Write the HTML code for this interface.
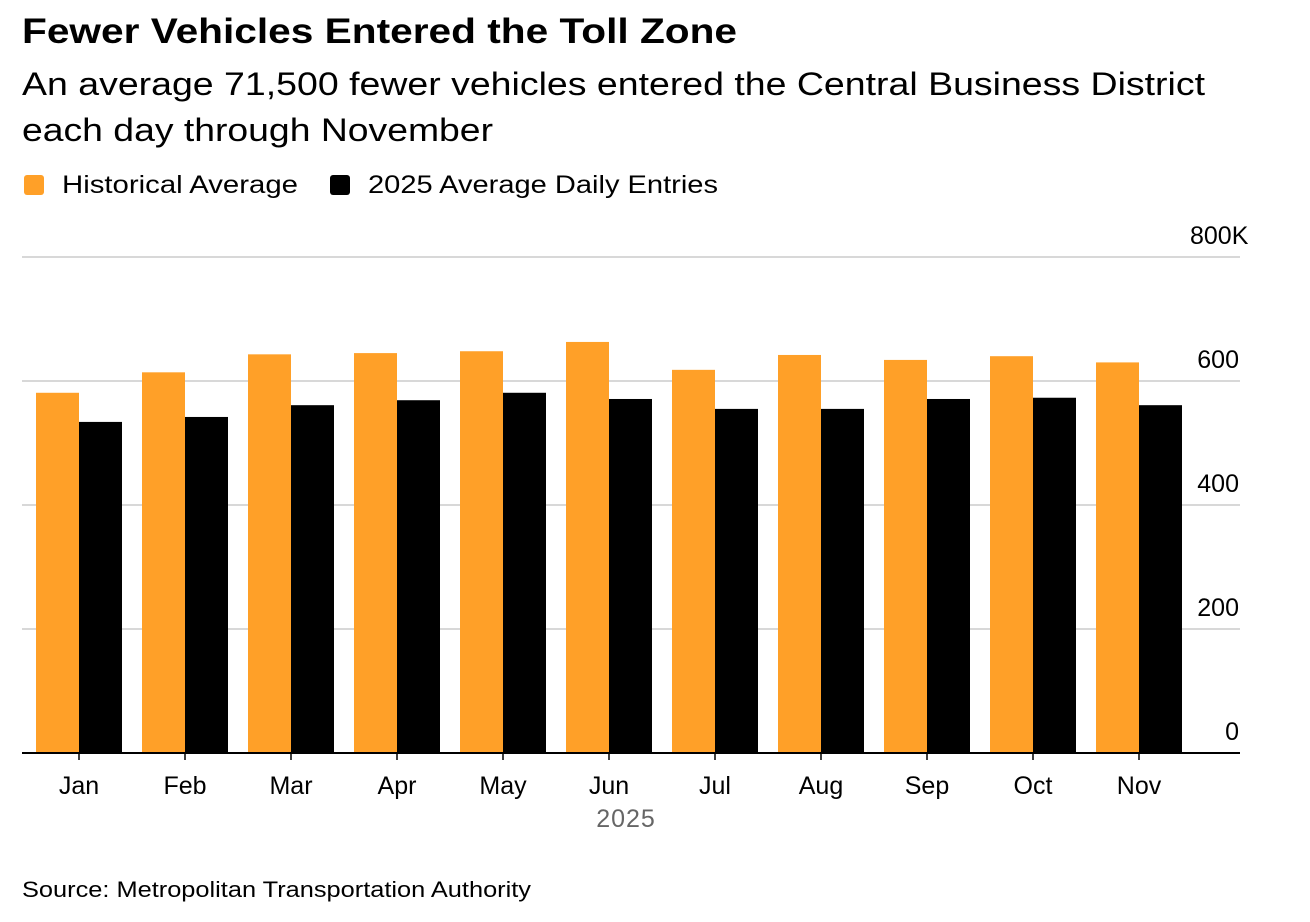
<!DOCTYPE html>
<html><head><meta charset="utf-8"><style>
body{margin:0;width:1310px;height:922px;background:#fff;font-family:"Liberation Sans",sans-serif;overflow:hidden}
svg{position:absolute;left:0;top:0}
</style></head><body>
<svg width="1310" height="922">
<text x="22" y="43" font-size="35" font-weight="bold" fill="#000" textLength="715" lengthAdjust="spacingAndGlyphs">Fewer Vehicles Entered the Toll Zone</text>
<text x="22" y="95" font-size="32" fill="#000" textLength="1183" lengthAdjust="spacingAndGlyphs">An average 71,500 fewer vehicles entered the Central Business District</text>
<text x="22" y="141" font-size="32" fill="#000" textLength="471" lengthAdjust="spacingAndGlyphs">each day through November</text>
<g>
<rect x="24" y="175" width="20" height="20" rx="3" fill="#ffa028"/>
<text x="62" y="193" font-size="25" textLength="236" lengthAdjust="spacingAndGlyphs">Historical Average</text>
<rect x="330" y="175" width="20" height="20" rx="3" fill="#000"/>
<text x="368" y="193" font-size="25" textLength="350" lengthAdjust="spacingAndGlyphs">2025 Average Daily Entries</text>
</g>
<g id="grid"></g><g id="bars"></g><g id="xaxis"></g>
<text x="626" y="827" font-size="25" fill="#666" text-anchor="middle" letter-spacing="1">2025</text>
<text x="22" y="897" font-size="22" fill="#000" textLength="509" lengthAdjust="spacingAndGlyphs">Source: Metropolitan Transportation Authority</text>
</svg>
<script>
const categories=["Jan","Feb","Mar","Apr","May","Jun","Jul","Aug","Sep","Oct","Nov"];
const historical=[581,614,643,645,648,663,618,642,634,640,630];
const entries2025=[534,542,561,569,581,571,555,555,571,573,561];
const yTicks=[0,200,400,600,800];
const yTickLabels=["0","200","400","600","800K"];
const NS="http://www.w3.org/2000/svg";
const y0=753,yTop=257,yMax=800;
function y(v){return y0-(v/yMax)*(y0-yTop);}
function xc(i){return 79+i*106;}
function mk(t,a,p){const e=document.createElementNS(NS,t);for(const k in a)e.setAttribute(k,a[k]);p.appendChild(e);return e;}
const grid=document.getElementById('grid'),bars=document.getElementById('bars'),xa=document.getElementById('xaxis');
yTicks.forEach((v,i)=>{
 if(v>0){const l=mk('line',{x1:22,x2:1240,y1:y(v),y2:y(v),stroke:'#ccc','stroke-width':1.5},grid);
 
 }
 const isTop=(i===yTicks.length-1);
 const t=mk('text',{x:isTop?1190:1239,y:y(v)-13,'font-size':25,'text-anchor':isTop?'start':'end'},grid);t.textContent=yTickLabels[i];
 
 
});
const bw=43;
categories.forEach((c,i)=>{
 const r1=mk('rect',{x:xc(i)-bw,y:y(historical[i]),width:bw,height:y0-y(historical[i]),fill:'#ffa028'},bars);
 
 
 const r2=mk('rect',{x:xc(i),y:y(entries2025[i]),width:bw,height:y0-y(entries2025[i]),fill:'#000'},bars);
 
 
 const tk=mk('line',{x1:xc(i),x2:xc(i),y1:y0,y2:y0+7,stroke:'#000','stroke-width':1.5},xa);
 
 
 const t=mk('text',{x:xc(i),y:794,'font-size':25,'text-anchor':'middle'},xa);t.textContent=c;
 
 
});
const ax=mk('line',{x1:22,x2:1240,y1:y0,y2:y0,stroke:'#000','stroke-width':2},xa);


</script>
</body></html>
